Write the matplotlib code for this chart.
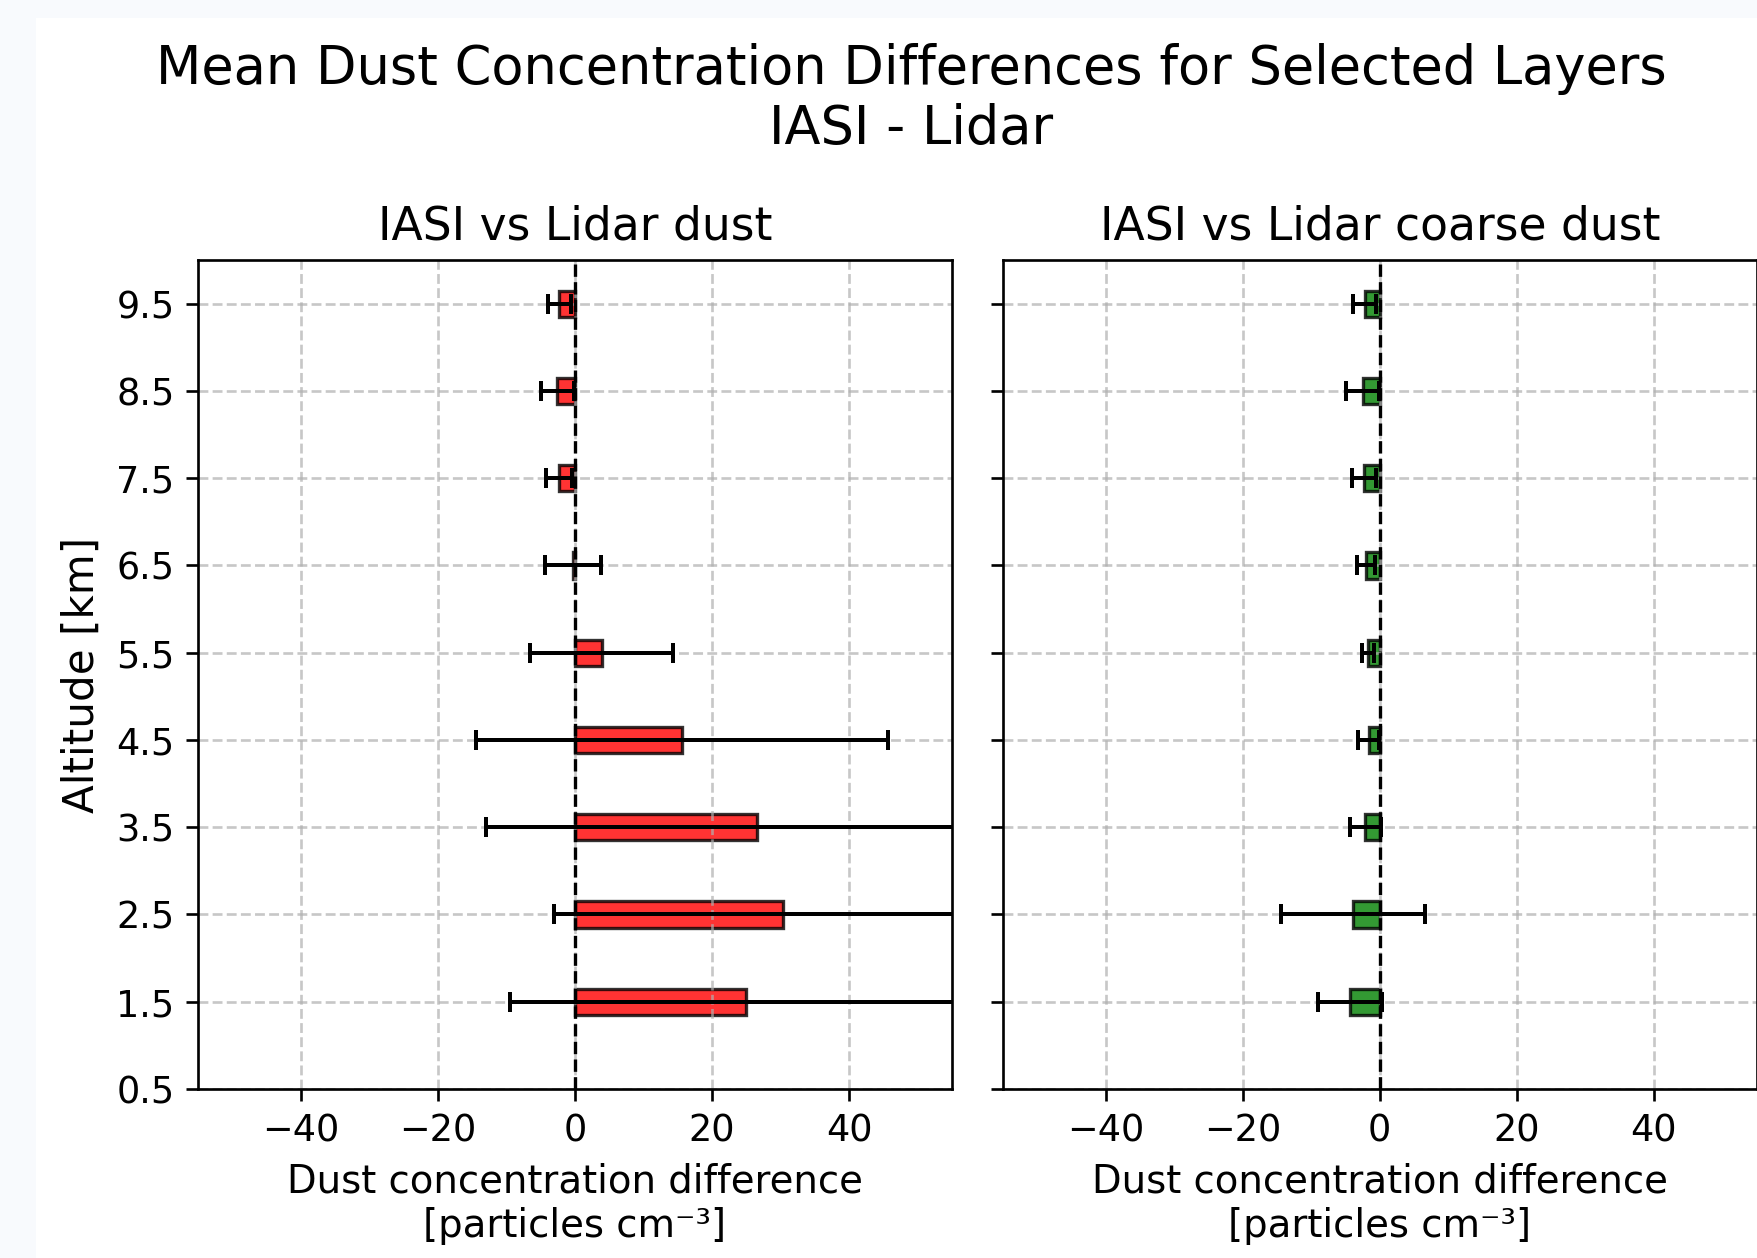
import matplotlib
matplotlib.use("Agg")
import matplotlib.pyplot as plt
from matplotlib.patches import Rectangle
import numpy as np

# ---- data ----
altitudes = [1.5, 2.5, 3.5, 4.5, 5.5, 6.5, 7.5, 8.5, 9.5]
dust_mean = [25.0, 30.4, 26.5, 15.6, 3.9, -0.3, -2.3, -2.6, -2.3]
dust_err = [34.5, 33.5, 39.5, 30.0, 10.4, 4.1, 1.9, 2.4, 1.7]
coarse_mean = [-4.3, -3.9, -2.1, -1.6, -1.7, -2.0, -2.3, -2.5, -2.2]
coarse_err = [4.65, 10.45, 2.3, 1.55, 0.9, 1.3, 1.8, 2.4, 1.65]
yticks = [0.5, 1.5, 2.5, 3.5, 4.5, 5.5, 6.5, 7.5, 8.5, 9.5]
xticks = [-40, -20, 0, 20, 40]

W, H = 1757, 1258
DPI = 240
fig = plt.figure(figsize=(W / DPI, H / DPI), dpi=DPI)
fig.patch.set_facecolor("white")

# faint border strip of the reference
fig.patches.append(Rectangle((0, 0), 36 / W, 1, transform=fig.transFigure,
                             facecolor="#f8fafd", edgecolor="none", zorder=0))
fig.patches.append(Rectangle((0, 1 - 18 / H), 1, 18 / H, transform=fig.transFigure,
                             facecolor="#f8fafd", edgecolor="none", zorder=0))

bottom = 1 - 1089 / H
top = 1 - 260 / H
ax1 = fig.add_axes([198 / W, bottom, (952 - 198) / W, top - bottom])
ax2 = fig.add_axes([1003 / W, bottom, (1756.5 - 1003) / W, top - bottom], sharey=ax1)

panels = [
    (ax1, dust_mean, dust_err, "red", "IASI vs Lidar dust"),
    (ax2, coarse_mean, coarse_err, "green", "IASI vs Lidar coarse dust"),
]
for ax, m, e, c, title in panels:
    ax.barh(altitudes, m, height=0.3, xerr=e, color=c, alpha=0.8,
            edgecolor="black", linewidth=1.0,
            error_kw=dict(ecolor="black", elinewidth=1.2, capsize=3, capthick=1.2))
    ax.axvline(0, color="black", linestyle="--", linewidth=1.0)
    ax.set_xlim(-55, 55)
    ax.set_ylim(0.5, 10)
    ax.set_yticks(yticks)
    ax.set_xticks(xticks)
    ax.grid(True, linestyle="--", alpha=0.7)
    ax.set_title(title, fontsize=13.7)
    ax.set_xlabel("Dust concentration difference\n[particles cm\u207b\u00b3]", fontsize=11.6)
    ax.tick_params(labelsize=11)

plt.setp(ax2.get_yticklabels(), visible=False)
ax1.set_ylabel("Altitude [km]", fontsize=12.6)

fig.suptitle("Mean Dust Concentration Differences for Selected Layers\nIASI - Lidar",
             fontsize=15.8, x=911 / W, y=1 - 43 / H, va="top")

fig.savefig("out.png", dpi=DPI)
